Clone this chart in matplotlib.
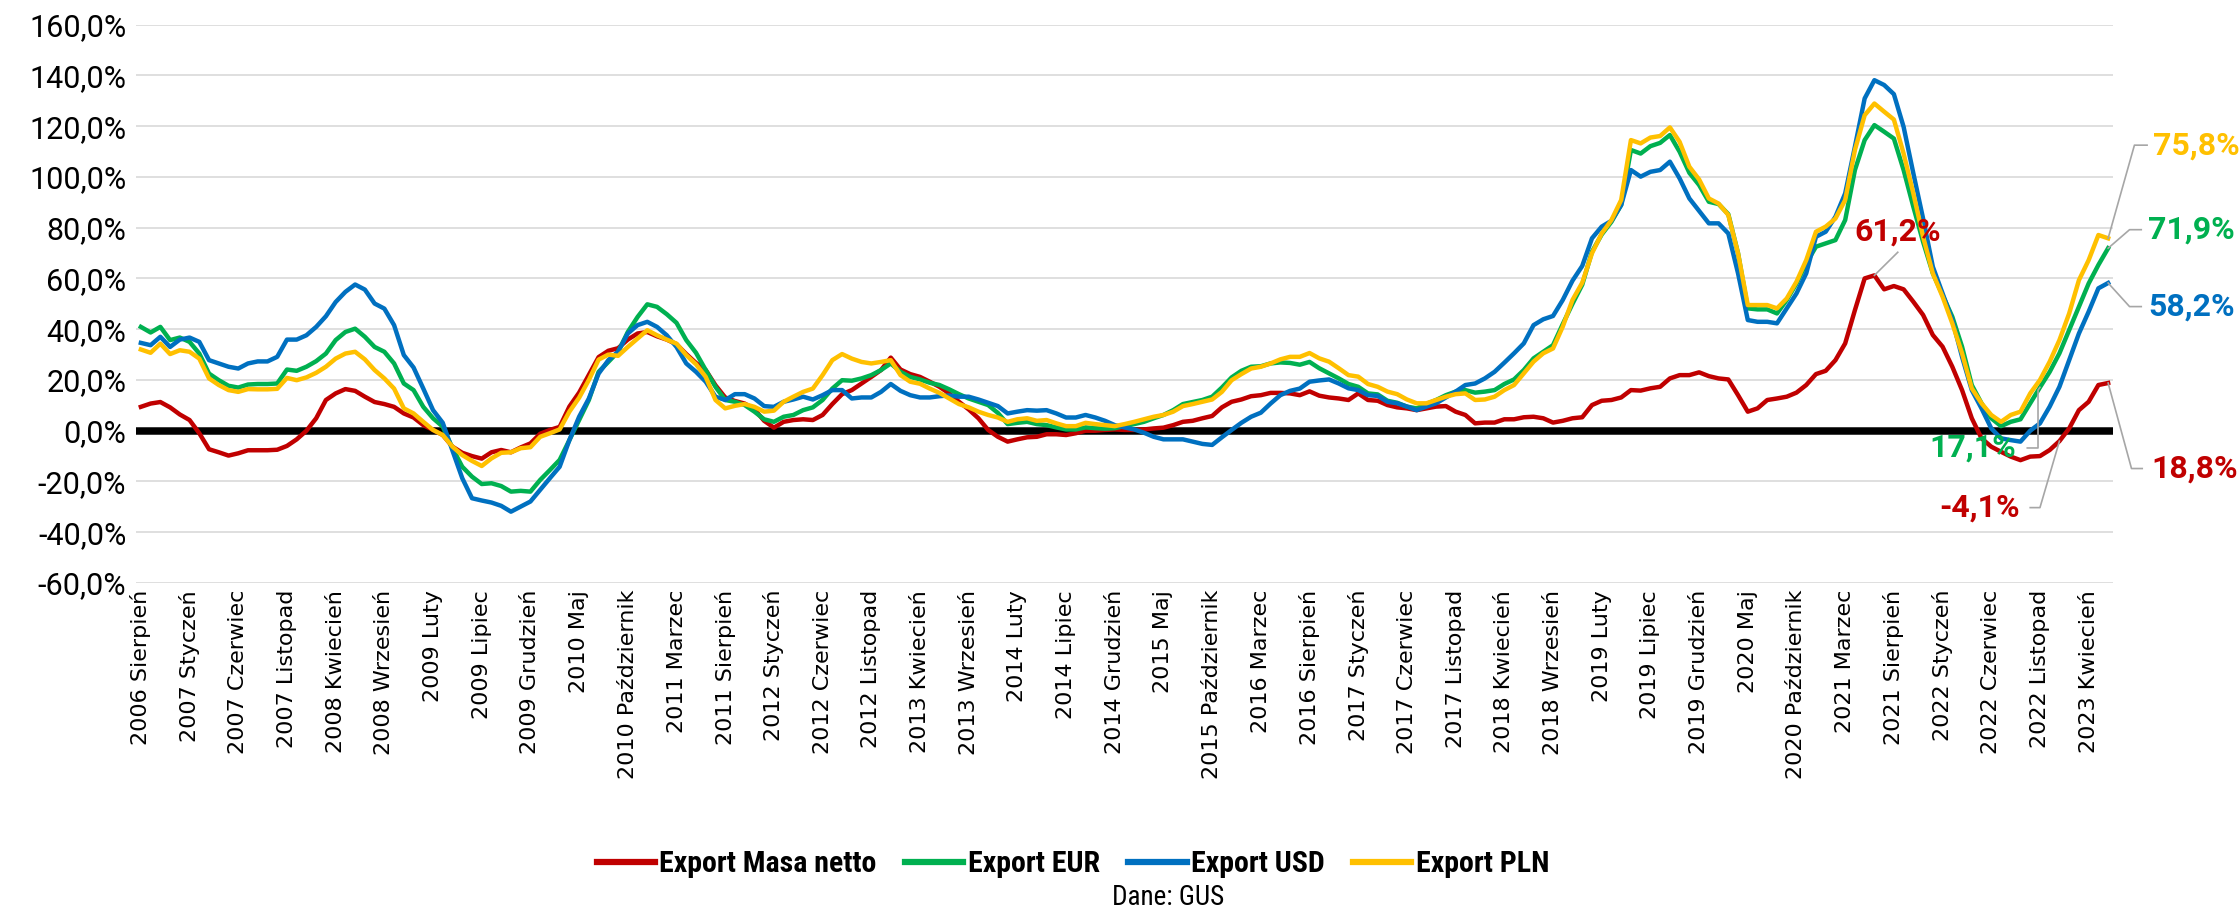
import matplotlib
matplotlib.use("Agg")
import matplotlib.pyplot as plt
from matplotlib.ticker import FuncFormatter
from matplotlib.lines import Line2D

# Export, r/r (%), monthly, Aug 2006 - Jun 2023
masa_netto = [
    9.4, 10.7, 11.3, 9.2, 6.4, 4.2, -1.0, -7.3, -8.5, -9.8,
    -8.9, -7.7, -7.7, -7.7, -7.5, -6.0, -3.4, 0.0, 4.9, 12.1,
    14.7, 16.4, 15.7, 13.4, 11.3, 10.5, 9.4, 6.8, 5.2, 2.2,
    0.3, -1.7, -6.3, -8.7, -10.0, -11.0, -8.5, -7.6, -8.5, -6.6,
    -5.0, -1.2, 0.3, 1.5, 9.5, 15.0, 22.0, 29.0, 31.5, 32.5,
    35.9, 38.3, 38.9, 37.2, 35.9, 34.1, 30.2, 26.7, 23.9, 17.9,
    13.1, 11.7, 10.7, 8.4, 3.9, 1.2, 3.5, 4.2, 4.5, 4.2,
    6.2, 10.5, 14.4, 16.0, 18.6, 21.2, 23.9, 28.8, 24.1, 22.3,
    21.2, 19.3, 17.3, 14.7, 11.4, 8.4, 4.9, 0.3, -2.4, -4.3,
    -3.4, -2.6, -2.4, -1.4, -1.4, -1.7, -1.0, 0.0, 0.0, 0.3,
    0.5, 0.3, 0.3, 0.5, 0.9, 1.2, 2.2, 3.5, 3.9, 4.9,
    5.8, 9.2, 11.4, 12.3, 13.6, 14.0, 14.9, 14.9, 14.7, 14.0,
    15.5, 13.8, 13.1, 12.7, 12.1, 14.7, 12.1, 11.8, 10.1, 9.2,
    8.8, 8.1, 8.8, 9.5, 9.7, 7.5, 6.2, 2.9, 3.2, 3.2,
    4.5, 4.5, 5.3, 5.5, 4.9, 3.2, 3.9, 4.9, 5.3, 10.1,
    11.8, 12.1, 13.1, 16.0, 15.8, 16.7, 17.3, 20.6, 21.9, 21.9,
    23.0, 21.5, 20.6, 20.2, 14.0, 7.5, 8.8, 12.1, 12.7, 13.4,
    15.0, 18.0, 22.3, 23.6, 27.8, 34.4, 47.5, 60.0, 61.2, 55.7,
    57.0, 55.7, 50.8, 45.6, 37.7, 33.1, 25.2, 16.0, 4.9, -3.0,
    -6.3, -8.3, -10.2, -11.6, -10.2, -10.0, -7.6, -4.1, 0.9, 8.1,
    11.4, 18.0, 18.8,
]

export_eur = [
    40.9, 38.7, 40.9, 35.7, 36.7, 35.0, 30.4, 22.5, 19.9, 17.7,
    17.0, 18.2, 18.4, 18.4, 18.6, 24.1, 23.6, 25.2, 27.4, 30.4,
    35.7, 38.9, 40.2, 37.0, 33.0, 31.1, 26.5, 18.6, 16.0, 9.4,
    4.9, 1.6, -6.9, -14.2, -18.1, -21.0, -20.7, -21.8, -24.0, -23.7,
    -24.0, -19.4, -15.5, -11.5, -3.7, 4.2, 12.1, 23.2, 27.1, 31.1,
    38.9, 44.8, 49.8, 48.8, 45.9, 42.5, 35.7, 30.7, 23.9, 17.3,
    12.1, 11.4, 10.1, 7.5, 4.5, 3.5, 5.5, 6.2, 8.1, 9.2,
    12.1, 16.6, 19.9, 19.7, 20.6, 21.9, 23.9, 26.5, 23.2, 21.2,
    20.2, 18.9, 18.0, 16.3, 14.4, 12.7, 11.4, 10.1, 7.0, 2.6,
    3.1, 3.5, 2.6, 2.2, 1.3, 0.5, 0.5, 1.3, 1.0, 0.8,
    1.0, 1.8, 2.6, 3.5, 4.9, 6.2, 8.1, 10.5, 11.3, 12.1,
    13.4, 17.0, 21.0, 23.6, 25.2, 25.4, 26.5, 26.9, 26.7, 26.0,
    27.1, 24.6, 22.6, 20.6, 18.4, 17.3, 14.7, 14.3, 11.8, 11.0,
    9.5, 8.8, 10.5, 12.1, 14.0, 15.4, 16.0, 15.0, 15.4, 16.0,
    18.4, 20.2, 23.9, 28.5, 31.1, 33.7, 42.0, 50.0, 57.5, 70.5,
    77.3, 82.3, 89.0, 110.6, 109.2, 112.1, 113.4, 116.5, 109.9, 101.6,
    96.8, 90.2, 89.3, 85.3, 69.9, 48.2, 47.8, 47.8, 46.2, 51.5,
    58.0, 65.9, 72.5, 73.8, 75.1, 83.0, 102.7, 114.5, 120.4, 117.8,
    115.1, 102.7, 88.2, 74.4, 62.0, 53.4, 44.9, 33.1, 18.0, 10.8,
    4.9, 1.8, 3.5, 4.5, 10.8, 17.1, 23.2, 30.5, 39.7, 48.8,
    58.0, 65.3, 71.9,
]

export_usd = [
    34.6, 33.7, 37.0, 33.0, 35.9, 36.7, 35.0, 27.8, 26.5, 25.2,
    24.5, 26.5, 27.3, 27.3, 29.1, 35.9, 35.9, 37.6, 40.9, 45.1,
    50.7, 54.7, 57.6, 55.6, 50.1, 48.1, 41.6, 29.8, 24.9, 16.6,
    8.1, 3.1, -7.9, -18.7, -26.6, -27.5, -28.3, -29.6, -31.9, -29.9,
    -27.9, -23.3, -18.7, -14.2, -3.7, 5.5, 12.7, 22.5, 27.8, 31.1,
    38.3, 41.6, 42.9, 40.9, 37.6, 33.0, 26.5, 23.2, 19.3, 13.4,
    12.1, 14.4, 14.4, 12.7, 9.7, 9.4, 11.4, 12.3, 13.4, 12.3,
    14.0, 16.0, 16.0, 12.7, 13.1, 13.1, 15.3, 18.4, 15.7, 14.0,
    13.1, 13.1, 13.6, 13.9, 13.4, 13.4, 12.3, 11.0, 9.7, 6.8,
    7.5, 8.1, 7.9, 8.1, 6.8, 5.2, 5.2, 6.2, 5.2, 3.9,
    2.2, 1.3, 0.5, -0.8, -2.4, -3.4, -3.4, -3.4, -4.3, -5.2,
    -5.6, -2.6, 0.3, 3.1, 5.5, 7.1, 10.7, 14.0, 15.7, 16.6,
    19.3, 19.8, 20.2, 18.6, 16.7, 16.0, 14.0, 13.7, 11.4, 10.8,
    9.5, 8.1, 9.5, 10.8, 13.1, 15.4, 18.0, 18.6, 20.6, 23.2,
    26.8, 30.5, 34.4, 41.6, 43.9, 45.2, 51.5, 59.1, 64.9, 75.8,
    80.4, 82.7, 88.9, 102.7, 100.1, 102.0, 102.7, 106.0, 99.4, 91.5,
    86.6, 81.7, 81.7, 77.7, 62.0, 43.6, 42.9, 42.9, 42.3, 48.2,
    54.1, 62.0, 76.4, 78.4, 84.3, 93.5, 111.9, 130.9, 138.1, 136.2,
    132.6, 119.7, 101.4, 83.6, 64.6, 54.1, 43.6, 29.1, 16.0, 8.8,
    0.9, -3.0, -3.7, -4.3, 0.0, 2.9, 9.5, 17.3, 27.8, 38.3,
    46.9, 56.1, 58.2,
]

export_pln = [
    32.0, 30.7, 34.3, 30.2, 31.7, 31.1, 28.4, 20.6, 18.0, 16.0,
    15.3, 16.4, 16.3, 16.3, 16.5, 20.8, 19.9, 21.0, 22.8, 25.2,
    28.4, 30.4, 31.1, 28.1, 23.9, 20.6, 16.6, 8.8, 6.8, 3.5,
    0.3, -1.7, -6.3, -9.6, -11.9, -13.9, -10.9, -8.7, -8.5, -6.9,
    -6.5, -2.4, -1.0, 0.5, 7.5, 13.0, 20.0, 28.0, 30.0, 29.5,
    33.0, 36.3, 39.6, 37.6, 35.9, 34.3, 29.8, 26.2, 21.2, 12.1,
    8.8, 9.8, 10.5, 9.4, 7.5, 7.9, 11.4, 13.4, 15.3, 16.6,
    21.9, 27.8, 30.2, 28.4, 27.1, 26.5, 27.1, 27.8, 21.9, 19.3,
    18.5, 16.6, 14.9, 12.7, 10.5, 9.2, 7.5, 6.2, 5.2, 3.5,
    4.5, 4.9, 3.9, 4.2, 2.9, 1.8, 1.8, 3.1, 2.6, 2.2,
    1.8, 2.6, 3.5, 4.5, 5.5, 6.2, 7.5, 9.7, 10.5, 11.4,
    12.3, 15.3, 19.9, 22.3, 24.5, 25.2, 26.5, 28.1, 29.1, 29.1,
    30.6, 28.5, 27.2, 24.6, 21.9, 21.3, 18.4, 17.3, 15.4, 14.4,
    12.3, 10.8, 10.8, 12.1, 13.4, 14.4, 14.7, 12.1, 12.3, 13.4,
    16.0, 18.0, 22.6, 27.2, 30.5, 32.4, 41.0, 51.5, 58.3, 69.9,
    77.7, 83.0, 90.9, 114.5, 113.2, 115.5, 116.1, 119.5, 113.8, 104.0,
    99.0, 91.5, 89.5, 85.0, 69.9, 49.5, 49.5, 49.5, 48.2, 52.1,
    58.7, 67.2, 78.4, 80.4, 83.6, 90.9, 110.6, 124.3, 128.9, 125.7,
    122.6, 109.2, 93.5, 76.4, 62.0, 52.8, 42.3, 30.5, 16.7, 10.8,
    6.2, 3.5, 6.2, 7.5, 14.7, 20.0, 27.2, 35.7, 46.2, 59.3,
    67.2, 77.1, 75.8,
]

tick_labels = [
    "2006 Sierpień", "2007 Styczeń", "2007 Czerwiec", "2007 Listopad",
    "2008 Kwiecień", "2008 Wrzesień", "2009 Luty", "2009 Lipiec",
    "2009 Grudzień", "2010 Maj", "2010 Październik", "2011 Marzec",
    "2011 Sierpień", "2012 Styczeń", "2012 Czerwiec", "2012 Listopad",
    "2013 Kwiecień", "2013 Wrzesień", "2014 Luty", "2014 Lipiec",
    "2014 Grudzień", "2015 Maj", "2015 Październik", "2016 Marzec",
    "2016 Sierpień", "2017 Styczeń", "2017 Czerwiec", "2017 Listopad",
    "2018 Kwiecień", "2018 Wrzesień", "2019 Luty", "2019 Lipiec",
    "2019 Grudzień", "2020 Maj", "2020 Październik", "2021 Marzec",
    "2021 Sierpień", "2022 Styczeń", "2022 Czerwiec", "2022 Listopad",
    "2023 Kwiecień",
]
tick_step = 5

series = [
    ("Export Masa netto", masa_netto, "#C00000"),
    ("Export EUR", export_eur, "#00B050"),
    ("Export USD", export_usd, "#0070C0"),
    ("Export PLN", export_pln, "#FFC000"),
]

W, H, DPI = 2239, 913, 100
COND = "Roboto Condensed"
fig = plt.figure(figsize=(W / DPI, H / DPI), dpi=DPI)
ax = fig.add_axes([136 / W, 1 - 583 / H, (2113 - 136) / W, (583 - 24.6) / H])

n = len(masa_netto)
x = list(range(n))
for name, vals, col in series:
    ax.plot(x, vals, color=col, lw=3.2, solid_joinstyle="round", zorder=3, label=name)

ax.axhline(0, color="black", lw=5.4, zorder=2)
ax.set_xlim(-0.5, n - 0.5)
ax.set_ylim(-60, 160)
ax.set_yticks(range(-60, 161, 20))
ax.yaxis.set_major_formatter(FuncFormatter(lambda v, p: f"{v:.1f}%".replace(".", ",")))
ax.yaxis.grid(True, color="#D9D9D9", lw=1.2)
ax.set_axisbelow(True)
for s in ax.spines.values():
    s.set_visible(False)

ax.set_xticks(range(0, len(tick_labels) * tick_step, tick_step))
ax.set_xticklabels(tick_labels, rotation=90, va="top", ha="center",
                   fontsize=16, family="DejaVu Sans")
ax.tick_params(axis="x", length=0, pad=5)
ax.tick_params(axis="y", length=0, pad=7, labelsize=22)
for t in ax.get_yticklabels():
    t.set_family("Roboto")

# value labels with leader lines
lead = dict(color="#A6A6A6", lw=1.2, clip_on=False, zorder=4)
lab = dict(fontsize=23, fontweight="bold", family="Roboto", va="center")
last = n - 1

ax.plot([178, 180.4], [61.2, 70.3], **lead)
ax.text(180.4, 78.6, "61,2%", color="#C00000", ha="center", **lab)

ax.plot([195, 194.8, 194.8, 193.7], [17.1, 16.0, -6.8, -6.8], **lead)
ax.text(192.6, -6.8, "17,1%", color="#00B050", ha="right", **lab)

ax.plot([197, 195.0, 194.0], [-4.1, -30.3, -30.3], **lead)
ax.text(192.9, -30.3, "-4,1%", color="#C00000", ha="right", **lab)

ax.plot([last, 204.7, 206.0], [export_pln[-1], 112.5, 112.5], **lead)
ax.text(206.6, 112.5, "75,8%", color="#FFC000", ha="left", **lab)

ax.plot([last, 204.2, 205.4], [export_eur[-1], 79.2, 79.2], **lead)
ax.text(206.1, 79.2, "71,9%", color="#00B050", ha="left", **lab)

ax.plot([last, 204.2, 205.4], [export_usd[-1], 48.9, 48.9], **lead)
ax.text(206.1, 48.9, "58,2%", color="#0070C0", ha="left", **lab)

ax.plot([last, 204.4, 205.5], [masa_netto[-1], -14.9, -14.9], **lead)
ax.text(206.4, -14.9, "18,8%", color="#C00000", ha="left", **lab)

handles = [Line2D([], [], color=c, lw=4.5) for _, _, c in series]
fig.legend(handles, [s[0] for s in series], loc="center", ncol=4,
           bbox_to_anchor=(1073 / W, 1 - 864 / H), frameon=False,
           prop=dict(family=COND, weight="bold", size=21.5),
           handlelength=1.95, handletextpad=0.15, columnspacing=0.95)

fig.text(1168 / W, 1 - 897 / H, "Dane: GUS", ha="center", va="center",
         fontsize=19.5, family=COND)

fig.savefig("out.png", dpi=DPI)
